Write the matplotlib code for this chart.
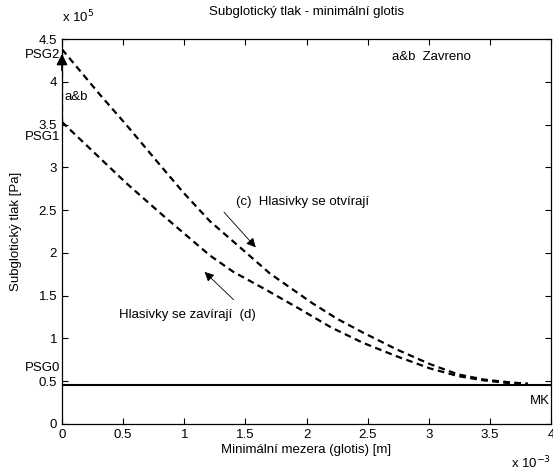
import matplotlib
matplotlib.use("Agg")
import matplotlib.pyplot as plt
from matplotlib.transforms import blended_transform_factory

plt.rcParams["font.family"] = ["Liberation Sans", "DejaVu Sans"]
plt.rcParams["font.size"] = 9.5

# otevirani hlasivek (c): PSG2 -> MK
x_open = [0.0, 0.31, 0.53, 0.80, 0.99, 1.21, 1.46, 1.70, 2.05, 2.25, 2.46, 2.74, 3.01, 3.24, 3.45, 3.64, 3.81]
y_open = [4.38, 3.85, 3.49, 3.03, 2.71, 2.37, 2.06, 1.76, 1.41, 1.23, 1.07, 0.87, 0.70, 0.58, 0.52, 0.49, 0.47]
# zavirani hlasivek (d): MK -> PSG1
x_close = [0.0, 0.25, 0.53, 0.80, 1.07, 1.21, 1.40, 1.68, 1.95, 2.20, 2.46, 2.74, 3.01, 3.24, 3.45, 3.64, 3.81]
y_close = [3.53, 3.19, 2.81, 2.47, 2.14, 1.97, 1.78, 1.56, 1.34, 1.13, 0.95, 0.79, 0.65, 0.56, 0.51, 0.48, 0.47]
# zavreno (a&b): PSG1 -> PSG2
x_shut = [0.0, 0.0]
y_shut = [3.53, 4.38]
# MK
psg0 = 0.46

x_ticks = [0, 0.5, 1, 1.5, 2, 2.5, 3, 3.5, 4]
y_ticks = [0, 0.5, 1, 1.5, 2, 2.5, 3, 3.5, 4, 4.5]
psg_labels = {"PSG2": 4.31, "PSG1": 3.35, "PSG0": 0.65}

fig = plt.figure(figsize=(5.53, 4.68), dpi=100, facecolor="white")
ax = fig.add_axes([62 / 553, 44 / 468, 489 / 553, 385 / 468])

dash = dict(color="black", linestyle="--", dashes=(3, 2), linewidth=1.6)
ax.plot(x_open, y_open, **dash)
ax.plot(x_close, y_close, **dash)
ax.plot(x_shut, y_shut, **dash)
ax.axhline(psg0, color="black", linewidth=1.5)

# sipka nahoru (a&b)
ax.annotate("", xy=(0.0, 4.36), xytext=(0.0, 4.1),
            arrowprops=dict(arrowstyle="-|>", color="black", lw=1.2, mutation_scale=16))

ax.set_xlim(0, 4)
ax.set_ylim(0, 4.5)
ax.set_xticks(x_ticks)
ax.set_xticklabels([f"{t:g}" for t in x_ticks])
ax.set_yticks(y_ticks)
ax.set_yticklabels([f"{t:g}" for t in y_ticks])
ax.tick_params(direction="in", top=True, right=True, length=4, width=0.8)
for spine in ax.spines.values():
    spine.set_linewidth(0.9)

ax.set_title("Subglotický tlak - minimální glotis", fontsize=9.5, pad=17)
ax.set_xlabel("Minimální mezera (glotis) [m]", labelpad=2)
ax.set_ylabel("Subglotický tlak [Pa]", labelpad=12)

ax.text(0.0, 1.035, "x 10$^5$", transform=ax.transAxes, ha="left", va="bottom")
ax.text(1.0, -0.08, "x 10$^{-3}$", transform=ax.transAxes, ha="right", va="top")

trans = blended_transform_factory(ax.transAxes, ax.transData)
for lab, yv in psg_labels.items():
    ax.text(-0.004, yv, lab, transform=trans, ha="right", va="center")

ax.text(0.02, 3.82, "a&b", ha="left", va="center")
ax.text(2.70, 4.29, "a&b  Zavreno", ha="left", va="center")
ax.text(3.99, 0.27, "MK", ha="right", va="center")
ax.text(1.42, 2.60, "(c)  Hlasivky se otvírají", ha="left", va="center")
ax.text(0.47, 1.27, "Hlasivky se zavírají  (d)", ha="left", va="center")

arrow = dict(arrowstyle="-|>", color="black", lw=0.6, mutation_scale=14)
ax.annotate("", xy=(1.60, 2.04), xytext=(1.31, 2.50), arrowprops=arrow)
ax.annotate("", xy=(1.15, 1.80), xytext=(1.42, 1.43), arrowprops=arrow)

fig.savefig("out.png", dpi=100, facecolor="white")
